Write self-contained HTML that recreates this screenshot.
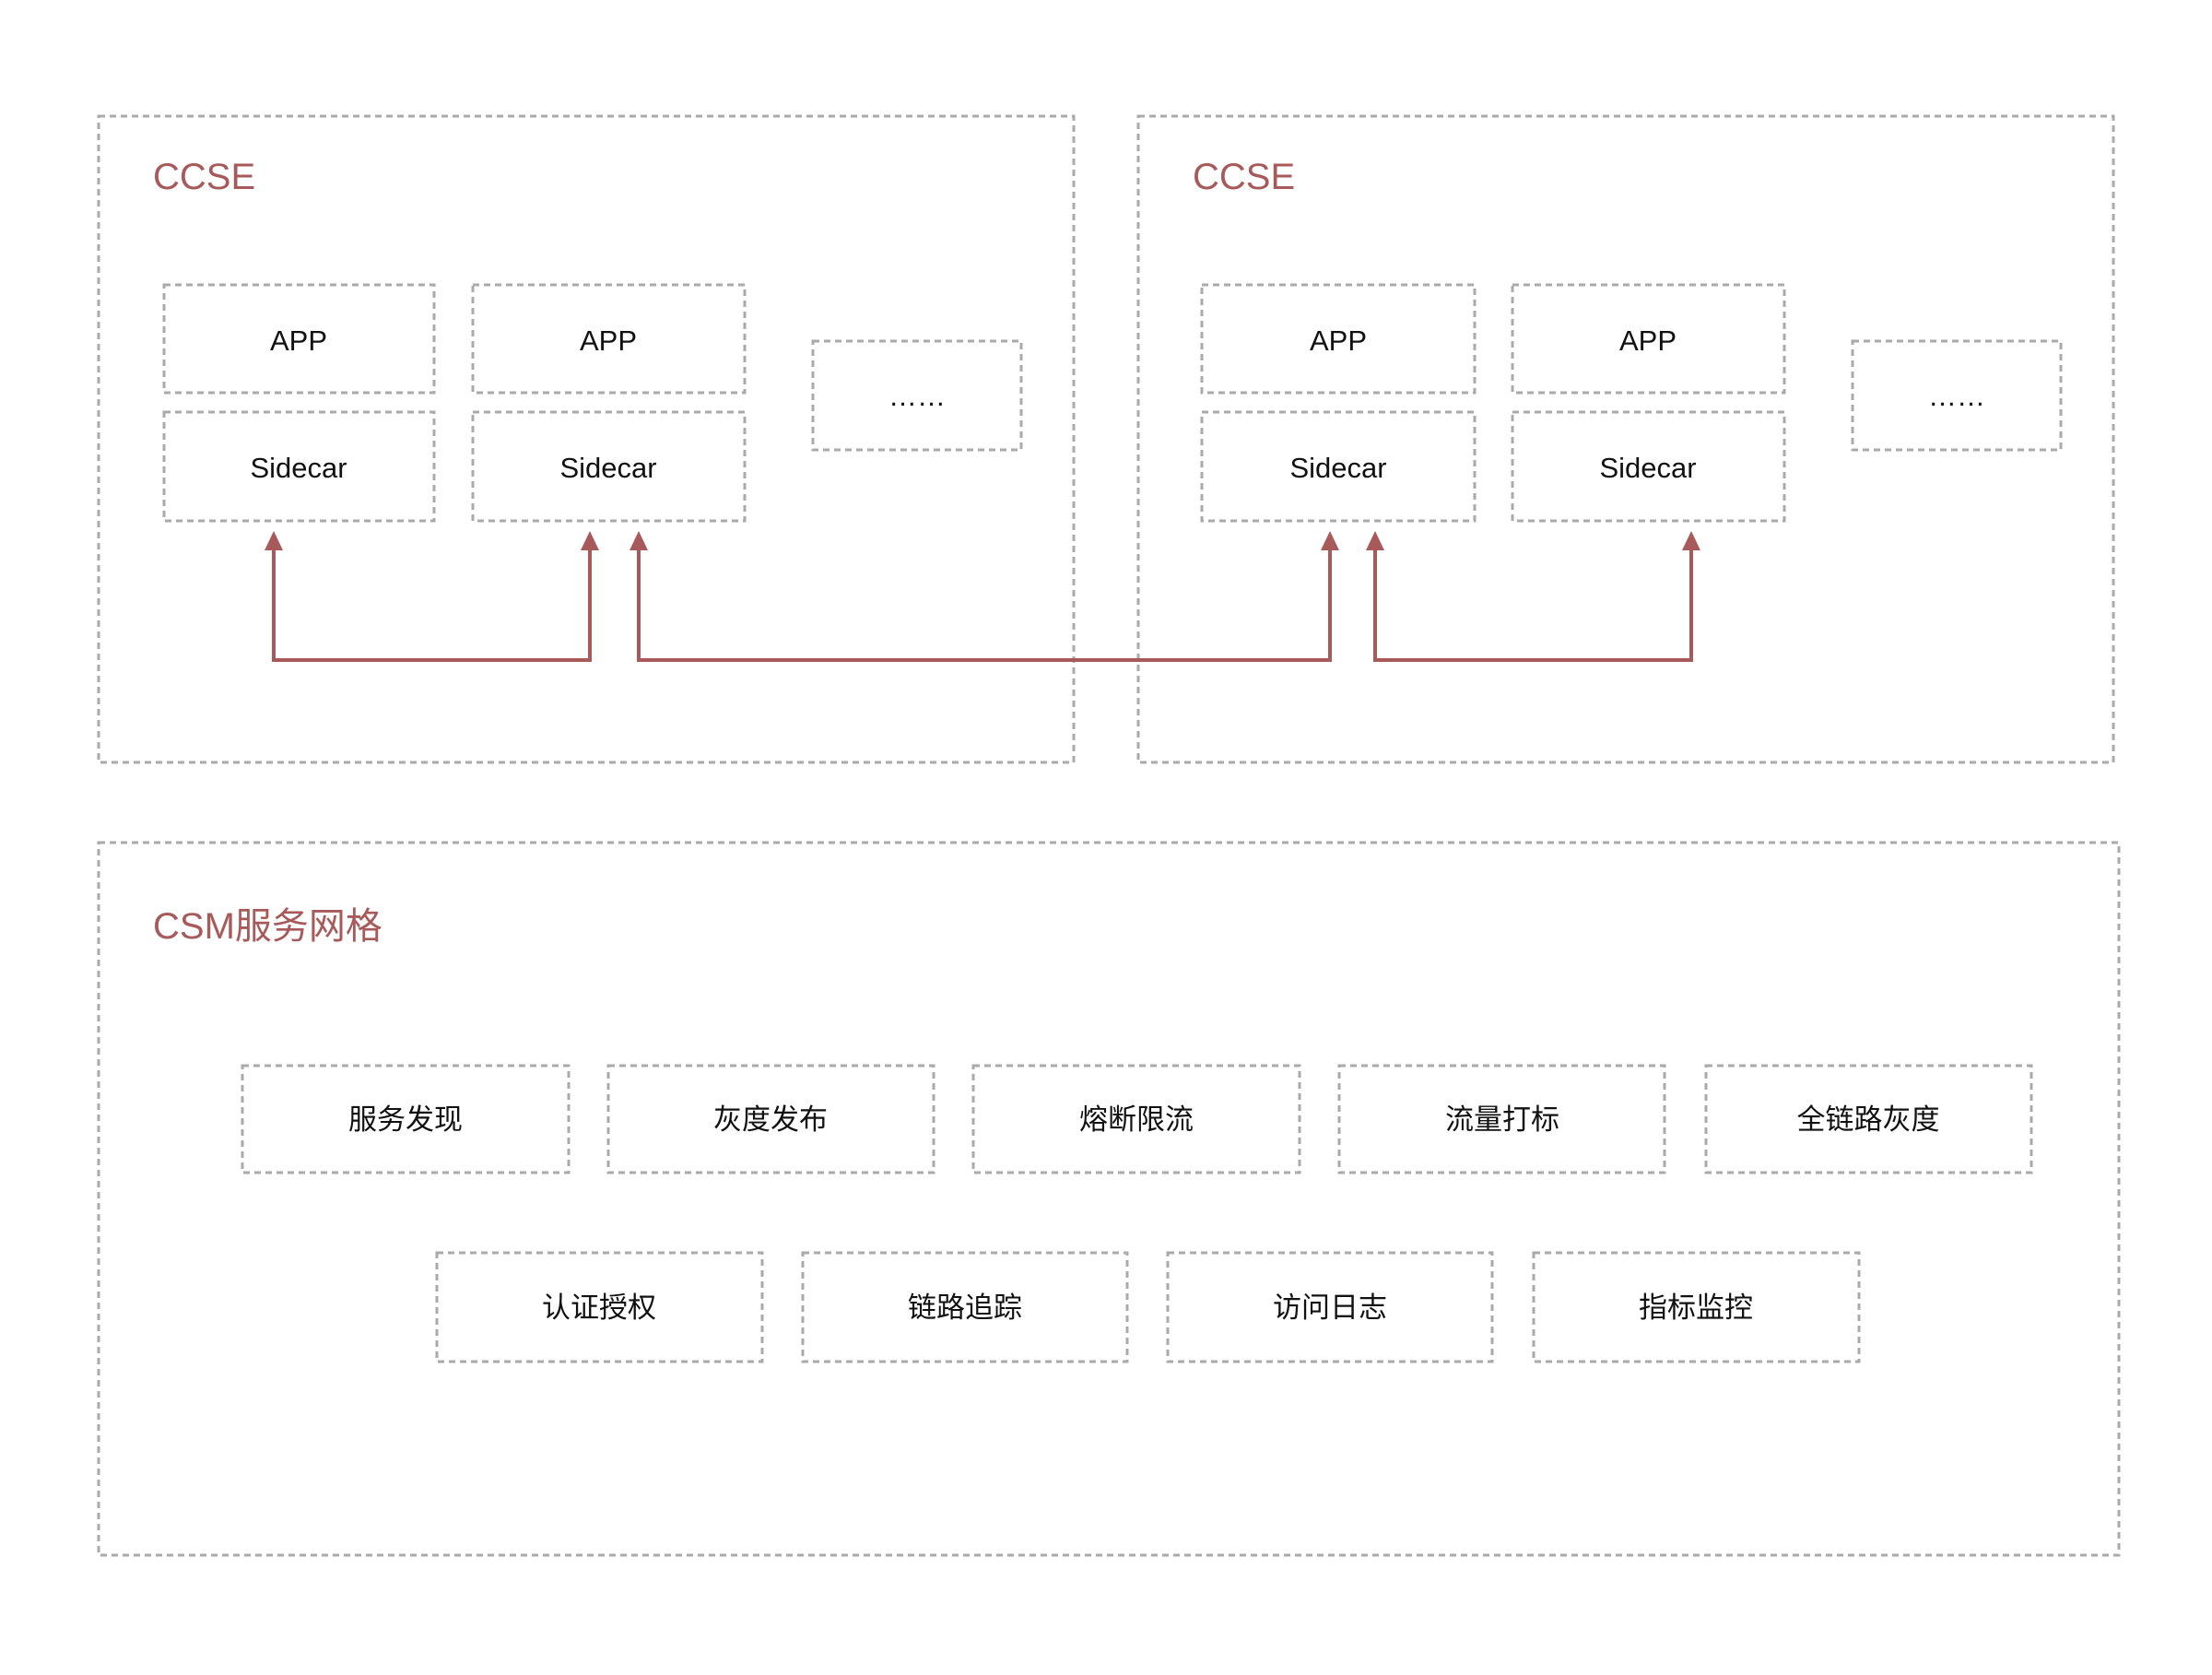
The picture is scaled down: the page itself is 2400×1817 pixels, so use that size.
<!DOCTYPE html>
<html><head><meta charset="utf-8"><style>
html,body{margin:0;padding:0;background:#fff;}
svg text{font-family:"Liberation Sans","Noto Sans CJK SC",sans-serif;}
</style></head><body>
<svg width="2400" height="1812" viewBox="0 0 2400 1812" xmlns="http://www.w3.org/2000/svg">
<g fill="none" stroke="#aaa" stroke-width="3" stroke-dasharray="7,5">
<rect x="107" y="126" width="1058" height="701"/>
<rect x="1235" y="126" width="1058" height="701"/>
<rect x="107" y="914" width="2192" height="773"/>
<rect x="178" y="309" width="293" height="117"/>
<rect x="513" y="309" width="295" height="117"/>
<rect x="178" y="447" width="293" height="118"/>
<rect x="513" y="447" width="295" height="118"/>
<rect x="882" y="370" width="226" height="118"/>
<rect x="1304" y="309" width="296" height="117"/>
<rect x="1641" y="309" width="295" height="117"/>
<rect x="1304" y="447" width="296" height="118"/>
<rect x="1641" y="447" width="295" height="118"/>
<rect x="2010" y="370" width="226" height="118"/>
<rect x="263" y="1156" width="354" height="116"/>
<rect x="660" y="1156" width="353" height="116"/>
<rect x="1056" y="1156" width="354" height="116"/>
<rect x="1453" y="1156" width="353" height="116"/>
<rect x="1851" y="1156" width="353" height="116"/>
<rect x="474" y="1359" width="353" height="118"/>
<rect x="871" y="1359" width="352" height="118"/>
<rect x="1267" y="1359" width="352" height="118"/>
<rect x="1664" y="1359" width="353" height="118"/>
</g>
<g fill="none" stroke="#a85a5a" stroke-width="4">
<polyline points="297,592 297,716 640,716 640,592"/>
<polyline points="693,592 693,716 1443,716 1443,592"/>
<polyline points="1492,592 1492,716 1835,716 1835,592"/>
</g>
<g fill="#a85a5a">
<polygon points="297,576 287,597 307,597"/>
<polygon points="640,576 630,597 650,597"/>
<polygon points="693,576 683,597 703,597"/>
<polygon points="1443,576 1433,597 1453,597"/>
<polygon points="1492,576 1482,597 1502,597"/>
<polygon points="1835,576 1825,597 1845,597"/>
</g>
<g fill="#a85a5a" font-size="40">
<text x="166" y="205">CCSE</text>
<text x="1294" y="205">CCSE</text>
<text x="166" y="1018">CSM服务网格</text>
</g>
<g fill="#111" font-size="31" text-anchor="middle">
<text x="324" y="380">APP</text>
<text x="660" y="380">APP</text>
<text x="324" y="518">Sidecar</text>
<text x="660" y="518">Sidecar</text>
<text x="995" y="440">……</text>
<text x="1452" y="380">APP</text>
<text x="1788" y="380">APP</text>
<text x="1452" y="518">Sidecar</text>
<text x="1788" y="518">Sidecar</text>
<text x="2123" y="440">……</text>
<text x="440" y="1225">服务发现</text>
<text x="836" y="1225">灰度发布</text>
<text x="1233" y="1225">熔断限流</text>
<text x="1630" y="1225">流量打标</text>
<text x="2027" y="1225">全链路灰度</text>
<text x="650" y="1429">认证授权</text>
<text x="1047" y="1429">链路追踪</text>
<text x="1443" y="1429">访问日志</text>
<text x="1840" y="1429">指标监控</text>
</g>
</svg>
</body></html>
